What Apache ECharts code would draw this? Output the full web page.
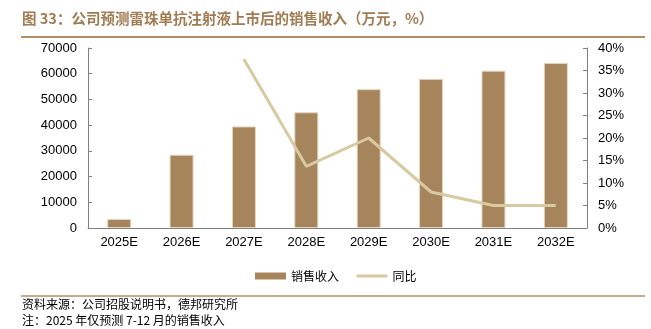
<!DOCTYPE html>
<html><head><meta charset="utf-8">
<script src="https://cdn.jsdelivr.net/npm/echarts@6/dist/echarts.min.js"></script>
<style>html,body{margin:0;padding:0;background:#fff;}#c{width:651px;height:329px;}</style>
</head><body><div id="c"></div>
<script>
const categories = ['2025E','2026E','2027E','2028E','2029E','2030E','2031E','2032E'];
const sales = [3500, 28500, 39500, 45000, 54000, 58000, 61200, 64200];
const yoy = [null, null, 37.5, 13.7, 20.0, 8.0, 5.0, 5.0];
const leftTicks = [0, 70000, 10000];
const rightTicks = [0, 40, 5];
const title = '图 33：公司预测雷珠单抗注射液上市后的销售收入（万元，%）';
const source = '资料来源：公司招股说明书，德邦研究所';
const note = '注：2025 年仅预测 7-12 月的销售收入';

const chart = echarts.init(document.getElementById('c'), null, {renderer:'canvas'});
const axisFont = {fontFamily:'Liberation Sans, Arial, sans-serif', fontSize:13, color:'#000'};
chart.setOption({
  animation:false,
  backgroundColor:'#fff',
  graphic:[
    {type:'text', left:22, top:11, style:{text:title, fill:'#A27B52', font:'bold 14.5px "Noto Sans CJK SC", sans-serif'}},
    {type:'line', shape:{x1:21, y1:37, x2:645, y2:37}, style:{stroke:'#B38D67', lineWidth:2}},
    {type:'line', shape:{x1:21, y1:296, x2:645, y2:296}, style:{stroke:'#B38D67', lineWidth:1.5}},
    {type:'text', left:22, top:298, style:{text:source, fill:'#000', font:'12px "Noto Sans CJK SC", sans-serif'}},
    {type:'text', left:22, top:314, style:{text:note, fill:'#000', font:'12px "Noto Sans CJK SC", sans-serif'}}
  ],
  legend:{
    top:265, left:250,
    itemWidth:31, itemHeight:7, itemGap:16,
    textStyle:{fontFamily:'"Noto Sans CJK SC", sans-serif', fontSize:12, color:'#000'},
    data:[{name:'销售收入', icon:'rect', itemStyle:{borderWidth:0}},
          {name:'同比', itemStyle:{opacity:0}, lineStyle:{width:3, color:'#D9C9A0'}}]
  },
  grid:{left:88, right:64, top:48, bottom:101},
  xAxis:{
    type:'category', data:categories,
    axisLine:{lineStyle:{color:'#808080', width:1}},
    axisTick:{inside:true, length:4, lineStyle:{color:'#808080'}},
    axisLabel:Object.assign({margin:8}, axisFont)
  },
  yAxis:[
    {type:'value', min:leftTicks[0], max:leftTicks[1], interval:leftTicks[2],
     axisLine:{show:true, lineStyle:{color:'#808080'}},
     axisTick:{show:true, inside:true, length:4, lineStyle:{color:'#808080'}},
     splitLine:{show:false},
     axisLabel:Object.assign({margin:11, formatter:function(v){return String(v);}}, axisFont)},
    {type:'value', min:rightTicks[0], max:rightTicks[1], interval:rightTicks[2],
     axisLine:{show:true, lineStyle:{color:'#808080'}},
     axisTick:{show:true, inside:true, length:4, lineStyle:{color:'#808080'}},
     splitLine:{show:false},
     axisLabel:Object.assign({margin:11, formatter:'{value}%'}, axisFont)}
  ],
  series:[
    {name:'销售收入', type:'bar', data:sales, barWidth:24,
     itemStyle:{color:'#A6845C', borderColor:'#E6D6BE', borderWidth:1}},
    {name:'同比', type:'line', yAxisIndex:1, data:yoy, symbol:'none',
     lineStyle:{color:'#D9C9A0', width:3}, itemStyle:{color:'#D9C9A0'}}
  ]
});
</script></body></html>
